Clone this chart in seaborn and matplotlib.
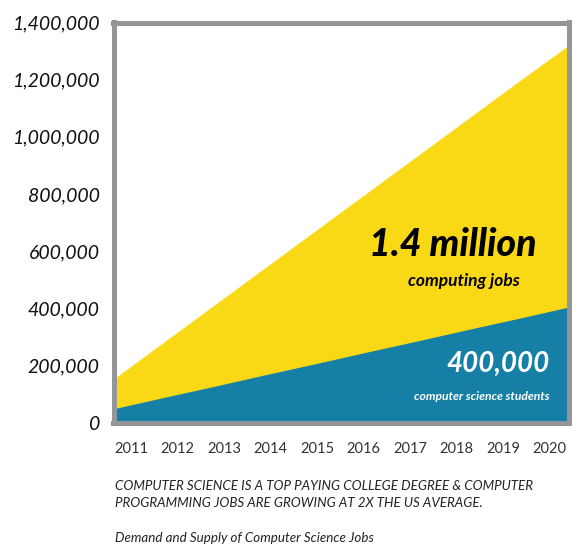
import numpy as np
import pandas as pd
import matplotlib
matplotlib.use("Agg")
import matplotlib.pyplot as plt
import seaborn as sns

years = [2011, 2012, 2013, 2014, 2015, 2016, 2017, 2018, 2019, 2020]
jobs = [152000, 282000, 412000, 542000, 672000, 802000, 932000, 1062000, 1192000, 1320000]
students = [48000, 88000, 127000, 167000, 206000, 246000, 285000, 325000, 364000, 404000]
ytick_vals = [0, 200000, 400000, 600000, 800000, 1000000, 1200000, 1400000]

df = pd.DataFrame({"year": years, "jobs": jobs, "students": students})

sns.set_theme(style="white")
plt.rcParams["font.family"] = ["Lato", "DejaVu Sans"]

YELLOW = "#F9D916"
BLUE = "#167FA6"
FRAME = "#939598"

fig = plt.figure(figsize=(5.76, 5.46), dpi=100)
ax = fig.add_axes([113.5 / 576, 123.5 / 546, 455 / 576, 400 / 546])

sns.lineplot(data=df, x="year", y="jobs", ax=ax, color=YELLOW, linewidth=0)
sns.lineplot(data=df, x="year", y="students", ax=ax, color=BLUE, linewidth=0)
ax.fill_between(df["year"], 0, df["jobs"], color=YELLOW, linewidth=0, zorder=1)
ax.fill_between(df["year"], 0, df["students"], color=BLUE, linewidth=0, zorder=2)

ax.set_xlim(2011, 2020)
ax.set_ylim(0, 1400000)

for s in ax.spines.values():
    s.set_visible(True)
    s.set_color(FRAME)
    s.set_linewidth(3.6)
    s.set_zorder(5)

ax.set_yticks(ytick_vals, labels=[f"{v:,}" for v in ytick_vals])
ax.tick_params(axis="y", length=0, pad=10, labelsize=14, labelcolor="#111111")
for lab in ax.get_yticklabels():
    lab.set_fontstyle("italic")

xpos = np.linspace(2011.35, 2019.62, len(years))
ax.set_xticks(xpos, labels=[str(y) for y in years])
ax.tick_params(axis="x", length=0, pad=14, labelsize=10.5, labelcolor="#333333")
ax.set_xlabel("")
ax.set_ylabel("")

ax.text(537 / 576, 1 - 245 / 546, "1.4 million", transform=fig.transFigure,
        ha="right", va="center", fontsize=27, fontweight=900, fontstyle="italic", color="black", zorder=6)
ax.text(520 / 576, 1 - 281 / 546, "computing jobs", transform=fig.transFigure,
        ha="right", va="center", fontsize=12.5, fontweight="bold", fontstyle="italic", color="black", zorder=6)
ax.text(550 / 576, 1 - 364 / 546, "400,000", transform=fig.transFigure,
        ha="right", va="center", fontsize=20, fontweight="bold", fontstyle="italic", color="white", zorder=6)
ax.text(550 / 576, 1 - 396 / 546, "computer science students", transform=fig.transFigure,
        ha="right", va="center", fontsize=8.7, fontweight="bold", fontstyle="italic", color="white", zorder=6)

cap_kw = dict(ha="left", va="center", fontsize=9.6, fontstyle="italic", color="#222222")
fig.text(115 / 576, 1 - 486 / 546, "COMPUTER SCIENCE IS A TOP PAYING COLLEGE DEGREE & COMPUTER", **cap_kw)
fig.text(115 / 576, 1 - 503 / 546, "PROGRAMMING JOBS ARE GROWING AT 2X THE US AVERAGE.", **cap_kw)
fig.text(115 / 576, 1 - 538 / 546, "Demand and Supply of Computer Science Jobs", **cap_kw)

fig.savefig("out.png", dpi=100)
